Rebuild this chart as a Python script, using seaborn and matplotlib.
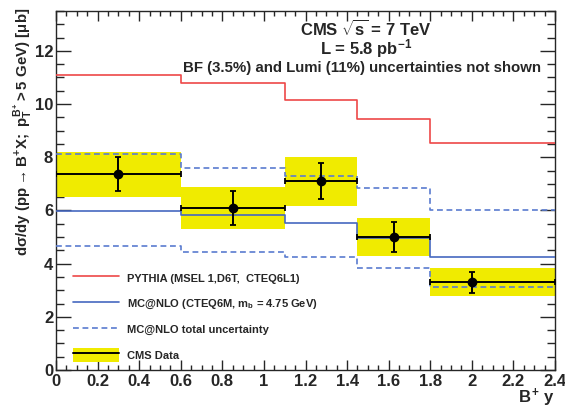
import numpy as np
import matplotlib
matplotlib.use("Agg")
import matplotlib.pyplot as plt
import seaborn as sns
from matplotlib.ticker import MultipleLocator, FuncFormatter
from matplotlib.lines import Line2D
from matplotlib.patches import Patch
from matplotlib.legend_handler import HandlerTuple

# B+ rapidity bins
bin_edges = [0.0, 0.6, 1.1, 1.45, 1.8, 2.4]

# Theory predictions per bin [ub]
pythia = [11.1, 10.8, 10.15, 9.45, 8.55]
mcnlo = [5.98, 5.83, 5.53, 4.98, 4.25]
mcnlo_up = [8.12, 7.6, 7.3, 6.83, 6.0]
mcnlo_down = [4.68, 4.44, 4.26, 3.85, 3.12]

# Measured cross section
data_x = [0.3, 0.85, 1.275, 1.625, 2.0]
data_y = [7.38, 6.1, 7.1, 5.0, 3.3]
stat_up = [0.64, 0.64, 0.70, 0.55, 0.40]
stat_down = [0.64, 0.65, 0.68, 0.56, 0.42]
syst_low = [6.49, 5.30, 6.18, 4.29, 2.78]
syst_high = [8.20, 6.89, 8.00, 5.70, 3.82]

sns.set_style("ticks")
plt.rcParams.update({
    "font.family": ["Liberation Sans", "DejaVu Sans"],
    "font.weight": "bold",
    "mathtext.fontset": "custom",
    "mathtext.rm": "Liberation Sans:bold",
    "mathtext.it": "Liberation Sans:bold",
    "mathtext.bf": "Liberation Sans:bold",
    "mathtext.sf": "Liberation Sans:bold",
    "axes.linewidth": 1.0,
})

RED = "#EE4848"
BLUE = "#4668C0"
BLUE_DASH = "#5A7CD0"
YELLOW = "#F0EB00"

fig = plt.figure(figsize=(5.65, 4.08), dpi=100)
ax = fig.add_axes([56 / 565, 38 / 408, 499 / 565, 359 / 408])

edges = np.array(bin_edges)
centers = 0.5 * (edges[:-1] + edges[1:])
widths = np.diff(edges)

# systematic uncertainty boxes
lo = np.array(syst_low)
hi = np.array(syst_high)
ax.bar(edges[:-1], hi - lo, bottom=lo, width=widths, align="edge",
       color=YELLOW, linewidth=0, zorder=1)

dash = (0, (3.5, 2.2))
step_styles = [
    (pythia, RED, "-"),
    (mcnlo, BLUE, "-"),
    (mcnlo_up, BLUE_DASH, dash),
    (mcnlo_down, BLUE_DASH, dash),
]
for vals, col, ls in step_styles:
    sns.histplot(x=centers, weights=vals, bins=bin_edges, element="step",
                 fill=False, color=col, linewidth=1.2, linestyle=ls,
                 ax=ax, zorder=3)

dx = np.array(data_x)
ax.errorbar(dx, data_y, xerr=[dx - edges[:-1], edges[1:] - dx],
            yerr=[stat_down, stat_up], fmt="o", color="black", ms=6,
            lw=1.4, capsize=2.5, capthick=1.3, zorder=5)

ax.set_xlim(0, 2.4)
ax.set_ylim(0, 13.5)
ax.set_xlabel("")
ax.set_ylabel("")

ax.xaxis.set_major_locator(MultipleLocator(0.2))
ax.xaxis.set_minor_locator(MultipleLocator(0.05))
ax.yaxis.set_major_locator(MultipleLocator(2))
ax.yaxis.set_minor_locator(MultipleLocator(0.5))
ax.xaxis.set_major_formatter(FuncFormatter(lambda v, p: f"{v:g}"))
ax.yaxis.set_major_formatter(FuncFormatter(lambda v, p: f"{v:g}"))

ax.tick_params(which="both", direction="in", top=True, right=True,
               width=1.0, labelsize=12)
ax.xaxis.set_tick_params(which="major", length=7.5, pad=3)
ax.xaxis.set_tick_params(which="minor", length=3.6)
ax.yaxis.set_tick_params(which="major", length=11, pad=2)
ax.yaxis.set_tick_params(which="minor", length=5.5)
for lab in ax.get_xticklabels() + ax.get_yticklabels():
    lab.set_fontweight("bold")

handles = [
    Line2D([], [], color=RED, lw=1.2),
    Line2D([], [], color=BLUE, lw=1.2),
    Line2D([], [], color=BLUE_DASH, lw=1.2, linestyle=dash),
    (Patch(facecolor=YELLOW, edgecolor="none"), Line2D([], [], color="black", lw=1.4)),
]
labels = [
    "PYTHIA (MSEL 1,D6T,  CTEQ6L1)",
    r"MC@NLO (CTEQ6M, $m_{b}$ = 4.75 GeV)",
    "MC@NLO total uncertainty",
    "CMS Data",
]
ax.legend(handles, labels, loc="lower left", bbox_to_anchor=(0.034, 0.022),
          borderaxespad=0, borderpad=0, frameon=False,
          handlelength=4.1, handleheight=1.6, handletextpad=0.8,
          labelspacing=1.0, handler_map={tuple: HandlerTuple(ndivide=1, pad=0)},
          prop={"weight": "bold", "size": 8})

fig.text(366 / 565, 1 - 29 / 408, r"CMS $\sqrt{s}$ = 7 TeV", ha="center",
         va="center", fontsize=12, fontweight="bold")
fig.text(366 / 565, 1 - 49 / 408, r"L = 5.8 pb$^{-1}$", ha="center",
         va="center", fontsize=12, fontweight="bold")
fig.text(362 / 565, 1 - 68 / 408, "BF (3.5%) and Lumi (11%) uncertainties not shown",
         ha="center", va="center", fontsize=10.8, fontweight="bold")

fig.text(23 / 565, 1 - 8 / 408,
         r"$d\sigma/dy\ (pp \rightarrow B^{+}X;\ p_{T}^{B^{+}} > 5\ GeV)\ [\mu b]$",
         rotation=90, ha="center", va="top", fontsize=10.8)
fig.text(555 / 565, 1 - 398 / 408, r"$B^{+}\ y$", ha="right", va="center",
         fontsize=12)

fig.savefig("out.png", dpi=100)
